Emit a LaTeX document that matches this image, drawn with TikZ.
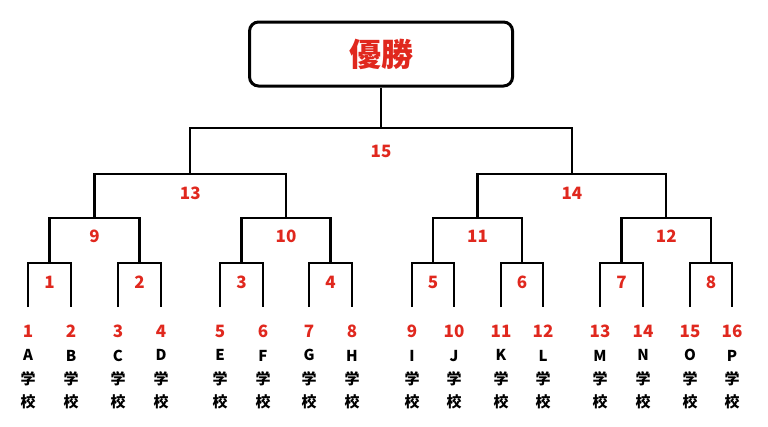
\documentclass[tikz,border=0pt]{standalone}
\usepackage{fontspec}
\setmainfont{Noto Sans CJK JP}
\usepackage{tikz}
\usetikzlibrary{positioning, calc}
\definecolor{numred}{HTML}{E0281E}

\begin{document}
\begin{tikzpicture}[x=1pt, y=-1pt,
    line/.style={line width=2.2pt},
    champ/.style={rectangle, draw, line width=3pt, rounded corners=9pt, minimum width=263pt, minimum height=64pt, text=numred, font=\fontsize{32}{32}\selectfont\bfseries},
    round/.style={text=numred, inner sep=0pt, font=\fontsize{17}{17}\selectfont\bfseries},
    school/.style={align=center, inner sep=0pt, anchor=north, font=\fontsize{15}{23.3}\selectfont\bfseries}
]
\useasboundingbox (0,0) rectangle (768,426);

% schools
\foreach \x/\s [count=\i] in {28/A,71/B,118/C,161/D,220/E,263/F,309/G,352/H,412/I,454/J,501/K,543/L,600/M,643/N,690/O,732/P}{
  \coordinate (t\i) at (\x,307);
  \node[school] (s\i) at (\x,325) {{\color{numred}\fontsize{17}{23.3}\selectfont\i}\\{\fontsize{15}{23.3}\selectfont\s}\\学\\校};
}

% matches: number / left / right / rise / label drop
\foreach \k/\a/\b/\h/\d in {1/t1/t2/44/19, 2/t3/t4/44/19, 3/t5/t6/44/19, 4/t7/t8/44/19,
    5/t9/t10/44/19, 6/t11/t12/44/19, 7/t13/t14/44/19, 8/t15/t16/44/19,
    9/m1/m2/45/18, 10/m3/m4/45/18, 11/m5/m6/45/18, 12/m7/m8/45/18,
    13/m9/m10/44/19, 14/m11/m12/44/19, 15/m13/m14/46/23}{
  \coordinate (m\k) at ($(\a)!0.5!(\b)+(0,-\h)$);
  \draw[line] (\a) |- (m\k) -| (\b);
  \node[round] (r\k) at ($(m\k)+(0,\d)$) {\k};
}

\node[champ] (win) at ($(m15)+(0,-74)$) {優勝};
\draw[line] (m15) -- (win);
\end{tikzpicture}
\end{document}
